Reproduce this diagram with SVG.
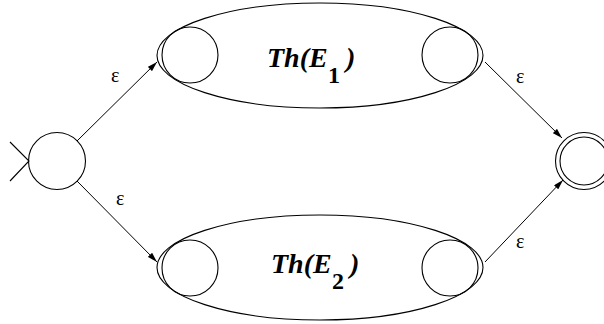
<svg xmlns="http://www.w3.org/2000/svg" width="604" height="324" viewBox="0 0 604 324">
<defs>
<marker id="ah" viewBox="0 0 10 6" refX="10" refY="3" markerWidth="10" markerHeight="6" markerUnits="userSpaceOnUse" orient="auto">
<path d="M0,0 L10,3 L0,6 z" fill="#000"/>
</marker>
<style>
.s{fill:none;stroke:#000;stroke-width:1.1}
.e{fill:none;stroke:#000;stroke-width:1;marker-end:url(#ah)}
.eps{font-family:'Liberation Serif',serif;font-size:20px;fill:#000}
.th{font-family:'Liberation Serif',serif;font-weight:bold;font-style:italic;font-size:28px;fill:#000}
.sub{font-family:'Liberation Serif',serif;font-weight:bold;font-size:24px;fill:#000}
</style>
</defs>
<rect width="604" height="324" fill="#fff"/>
<g id="start">
<circle class="s" cx="57" cy="161" r="28.5"/>
<path class="s" d="M10,142 L29,161 L10,181"/>
</g>
<g id="th1">
<ellipse class="s" cx="320" cy="55.5" rx="163" ry="52.5"/>
<circle class="s" cx="190" cy="55" r="28"/>
<circle class="s" cx="450" cy="55" r="28"/>
<text class="th" x="267" y="67">Th(E</text>
<text class="sub" x="328" y="83">1</text>
<text class="th" x="346" y="67">)</text>
</g>
<g id="th2">
<ellipse class="s" cx="320" cy="267.5" rx="163" ry="52.5"/>
<circle class="s" cx="190" cy="268" r="28"/>
<circle class="s" cx="450" cy="268" r="28"/>
<text class="th" x="271" y="273">Th(E</text>
<text class="sub" x="332" y="289">2</text>
<text class="th" x="350" y="273">)</text>
</g>
<g id="final">
<circle class="s" cx="584" cy="161" r="28.5"/>
<circle class="s" cx="584" cy="161" r="24"/>
</g>
<g id="connectors">
<line class="e" x1="77" y1="141" x2="157" y2="62"/>
<line class="e" x1="77" y1="181" x2="157" y2="262"/>
<line class="e" x1="485" y1="62" x2="562" y2="138"/>
<line class="e" x1="485" y1="262" x2="563" y2="180"/>
<text class="eps" x="111" y="82">ε</text>
<text class="eps" x="116" y="205">ε</text>
<text class="eps" x="516" y="83">ε</text>
<text class="eps" x="516" y="248">ε</text>
</g>
</svg>
